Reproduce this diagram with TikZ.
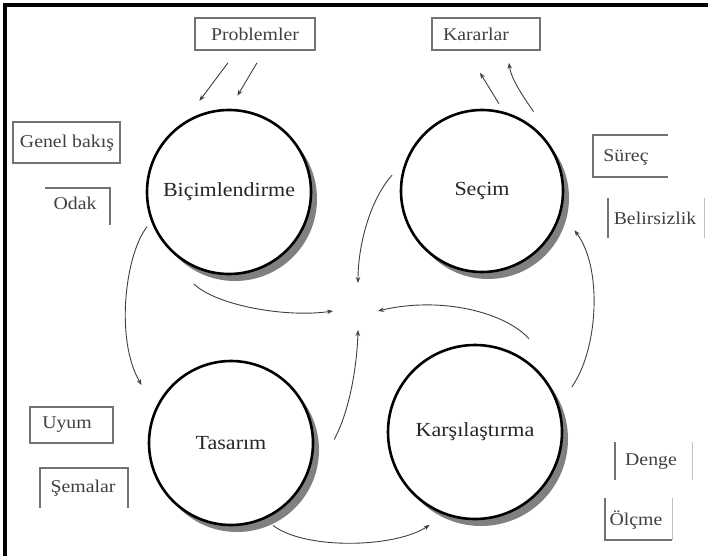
\documentclass[tikz,border=0pt]{standalone}
\usepackage{fontspec}
\setmainfont[FakeStretch=1.1]{Liberation Serif}
\usetikzlibrary{arrows.meta,shadows,calc}
\begin{document}
\begin{tikzpicture}[x=1pt,y=-1pt,
  circ/.style={circle,draw=black,line width=2.6pt,fill=white,inner sep=0pt,
    font=\fontsize{20}{20}\selectfont,text=black!85,
    drop shadow={shadow xshift=6pt,shadow yshift=-7pt,fill=black!50,opacity=1}},
  boxfull/.style={draw=black!55,line width=1.6pt,inner sep=0pt},
  boxopen/.style={inner sep=0pt},
  side/.style={draw=black!55,line width=1.6pt},
  sidelight/.style={draw=black!25,line width=1.2pt},
  lbl/.style={font=\fontsize{18}{18}\selectfont,text=black!75,inner sep=0pt},
  conn/.style={draw=black!75,line width=0.9pt,-{Stealth[length=6pt,width=4.5pt]}}
]
\useasboundingbox (0,0) rectangle (708,556);
\fill[white] (0,0) rectangle (708,556);
% frame
\draw[line width=3.5pt] (5,556) -- (5,5) -- (708,5);

% circles
\node[circ,minimum size=164pt] (bic) at (229,192) {Biçimlendirme};
\node[circ,minimum size=162pt] (sec) at (482,191) {Seçim};
\node[circ,minimum size=164pt] (tas) at (231,443) {Tasarım};
\node[circ,minimum size=174pt] (kar) at (475,432) {Karşılaştırma};

% center points
\coordinate (cT) at (358,283);
\coordinate (cL) at (333,311);
\coordinate (cR) at (378,311);
\coordinate (cB) at (358,330);

% full boxes
\node[boxfull,minimum width=120pt,minimum height=32pt] (bprob) at (255,34) {};
\node[boxfull,minimum width=108pt,minimum height=32pt] (bkarar) at (486,34) {};
\node[boxfull,minimum width=107pt,minimum height=41pt] (bgenel) at (66.5,142.5) {};
\node[boxfull,minimum width=83pt,minimum height=36pt] (buyum) at (71.5,425) {};

% open boxes
\node[boxopen,minimum width=65pt,minimum height=37pt] (bodak) at (77.5,206.5) {};
\node[boxopen,minimum width=75pt,minimum height=42pt] (bsurec) at (630.5,156) {};
\node[boxopen,minimum width=96pt,minimum height=40pt] (bbel) at (656,218) {};
\node[boxopen,minimum width=77pt,minimum height=38pt] (bdenge) at (653.5,461) {};
\node[boxopen,minimum width=67pt,minimum height=42pt] (bolcme) at (638.5,519) {};
\node[boxopen,minimum width=88pt,minimum height=40pt] (bsema) at (84,488) {};

\draw[side] (bodak.north west) -- (bodak.north east) -- (bodak.south east);
\draw[side] (bsurec.north east) -- (bsurec.north west) -- (bsurec.south west) -- (bsurec.south east);
\draw[side] (bbel.north west) -- (bbel.south west);
\draw[sidelight] (bbel.north east) -- (bbel.south east);
\draw[side] (bdenge.north west) -- (bdenge.south west);
\draw[sidelight] (bdenge.north east) -- (bdenge.south east);
\draw[side] (bolcme.north west) -- (bolcme.south west) -- (bolcme.south east);
\draw[sidelight] (bolcme.south east) -- (bolcme.north east);
\draw[side] (bsema.south west) -- (bsema.north west) -- (bsema.north east) -- (bsema.south east);

% labels
\node[lbl] (tprob) at (255,34) {Problemler};
\node[lbl] (tkarar) at (476,34) {Kararlar};
\node[lbl] (tgenel) at (67,143) {Genel bakış};
\node[lbl] (todak) at (75,203) {Odak};
\node[lbl] (tsurec) at (626,157) {Süreç};
\node[lbl] (tbel) at (655,218) {Belirsizlik};
\node[lbl] (tdenge) at (651,462) {Denge};
\node[lbl] (tolcme) at (636,520) {Ölçme};
\node[lbl] (tuyum) at (67,425) {Uyum};
\node[lbl] (tsema) at (83,488) {Şemalar};

% connectors
\draw[conn] ($(bprob.south)+(-27,12)$) -- ($(bic.center)!1.15!(bic.108)$);
\draw[conn] ($(bprob.south)+(2,12)$) -- ($(bic.center)!1.16!(bic.85)$);

\draw[conn] ($(sec.center)!1.08!(sec.79.5)$) -- ($(bkarar.south)+(-6,22)$);
\draw[conn] ($(sec.center)!1.15!(sec.57.7)$) .. controls (520,92) and (511,78) .. ($(bkarar.south)+(23,12)$);

\draw[conn] ($(bic.center)!1.07!(bic.203)$) .. controls (125,255) and (115,340) .. ($(tas.center)!1.28!(tas.147)$);
\draw[conn] ($(bic.center)!1.18!(bic.249.5)$) .. controls (215,305) and (285,318) .. (cL);
\draw[conn] ($(tas.center)!1.24!(tas.2)$) .. controls (350,410) and (357,365) .. (cB);
\draw[conn] ($(sec.center)!1.11!(sec.170)$) .. controls (370,200) and (358,245) .. (cT);
\draw[conn] ($(kar.center)!1.22!(kar.60)$) .. controls (505,312) and (440,296) .. (cR);
\draw[conn] ($(kar.center)!1.21!(kar.25)$) .. controls (598,350) and (603,268) .. ($(sec.center)!1.22!(sec.337)$);
\draw[conn] ($(tas.center)!1.11!(tas.297)$) .. controls (305,550) and (395,548) .. ($(kar.center)!1.17!(kar.244)$);
\end{tikzpicture}
\end{document}
